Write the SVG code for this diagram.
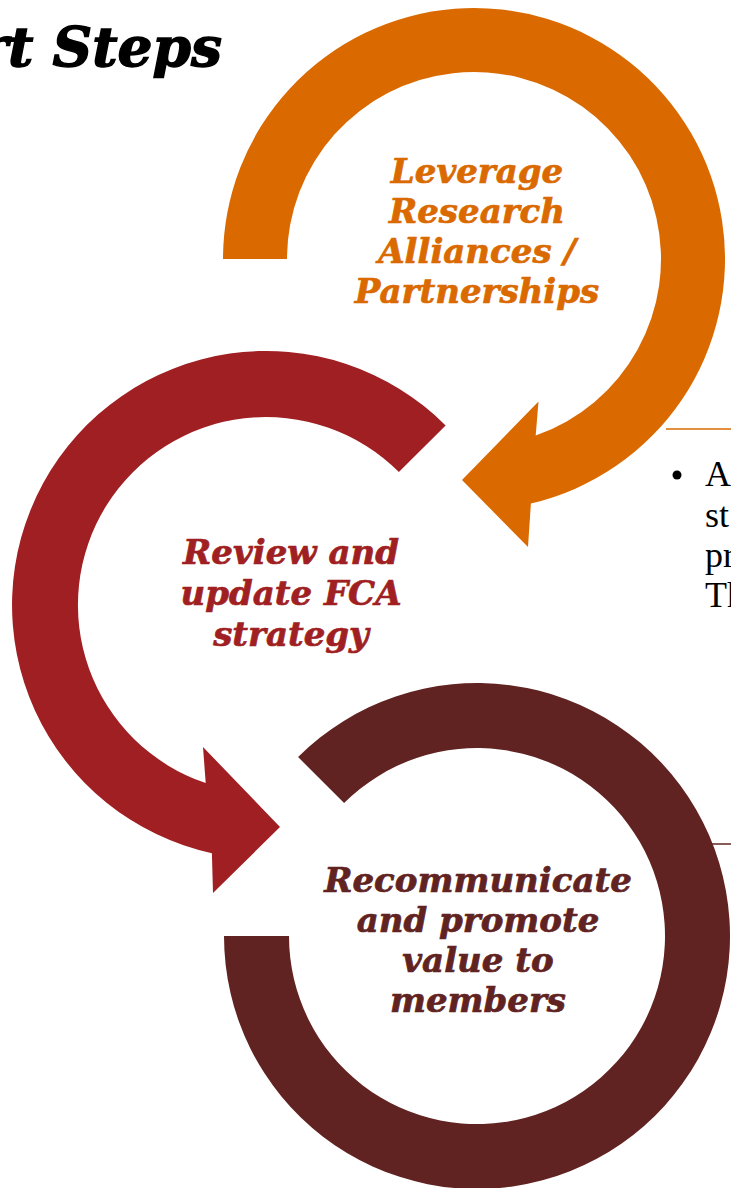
<svg xmlns="http://www.w3.org/2000/svg" width="731" height="1188" viewBox="0 0 731 1188">
<style>
.lbl{font-family:"DejaVu Serif","Liberation Serif",serif;font-weight:bold;font-style:italic;font-size:34px;text-anchor:middle;stroke-width:0.7px}
.body{font-family:"Liberation Serif","Times New Roman",serif;font-size:36px;fill:#000}
.o{fill:#DA6A00;stroke:#DA6A00}.r{fill:#A01F22;stroke:#A01F22}.b{fill:#612321;stroke:#612321}
path.o,path.r,path.b{stroke:none}
</style>
<rect width="731" height="1188" fill="#fff"/>
<text x="222" y="66" font-family="DejaVu Serif, Liberation Serif, serif" font-weight="bold" font-style="italic" font-size="55" text-anchor="end" fill="#000" stroke="#000" stroke-width="1.4">rt Steps</text>
<g id="connectors">
<line x1="666" y1="429" x2="731" y2="429" stroke="#DA6A00" stroke-width="1.5"/>
<line x1="710" y1="844" x2="731" y2="844" stroke="#612321" stroke-width="1.5"/>
</g>
<g id="node-leverage">
<path class="o" d="M223,259 A251,251 0 1 1 530.9,503.5 L528,547 L462,480 L538.5,401.5 L535.7,435.5 A187,187 0 1 0 287,259 Z"/>
<text class="lbl o" x="477" y="183">Leverage</text>
<text class="lbl o" x="477" y="223">Research</text>
<text class="lbl o" x="477" y="263">Alliances /</text>
<text class="lbl o" x="477" y="303">Partnerships</text>
</g>
<g id="node-review">
<path class="r" d="M445.6,425.4 A254,254 0 1 0 211.9,853.2 L213,893 L280,827 L203,747 L205.7,783.1 A188,188 0 1 1 398.9,472.1 Z"/>
<text class="lbl r" x="291" y="564">Review and</text>
<text class="lbl r" x="291" y="605">update FCA</text>
<text class="lbl r" x="291" y="646">strategy</text>
</g>
<g id="node-recommunicate">
<path class="b" d="M298.1,757.1 A253,253 0 1 1 224,936 L289,936 A188,188 0 1 0 344.1,803.1 Z"/>
<text class="lbl b" x="478" y="892">Recommunicate</text>
<text class="lbl b" x="478" y="932">and promote</text>
<text class="lbl b" x="478" y="972">value to</text>
<text class="lbl b" x="478" y="1012">members</text>
</g>
<g id="callout-text">
<circle cx="677" cy="475" r="4.5" fill="#000"/>
<text class="body" x="705" y="486">A</text>
<text class="body" x="705" y="527">st</text>
<text class="body" x="705" y="567">pr</text>
<text class="body" x="705" y="607">Th</text>
</g>
</svg>
